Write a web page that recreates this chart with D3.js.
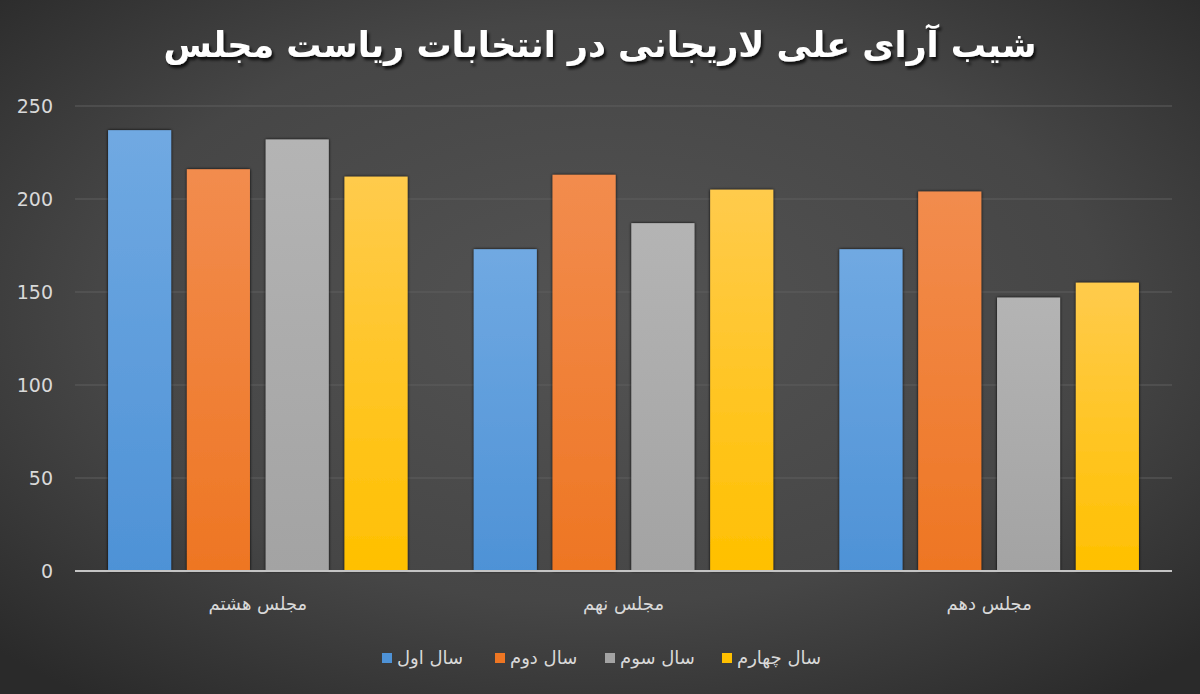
<!DOCTYPE html>
<html lang="fa">
<head>
<meta charset="UTF-8">
<title>شیب آرای علی لاریجانی</title>
<script src="https://d3js.org/d3.v7.min.js"></script>
<style>
    body {
        margin: 0;
        padding: 0;
        background: #333;
    }
    svg {
        display: block;
    }
    .tick text {
        font-family: "DejaVu Sans", sans-serif;
    }
</style>
</head>
<body>
<svg id="chart" width="1200" height="694"></svg>
<script>
// data
const categories = ["مجلس هشتم", "مجلس نهم", "مجلس دهم"];
const seriesNames = ["سال اول", "سال دوم", "سال سوم", "سال چهارم"];
const salAval    = [237, 173, 173];
const salDovom   = [216, 213, 204];
const salSevom   = [232, 187, 147];
const salCharom  = [212, 205, 155];
const yTicks = [0, 50, 100, 150, 200, 250];

const seriesValues = [salAval, salDovom, salSevom, salCharom];
const colorsTop = ["#70a9e2", "#f28c4e", "#b4b4b4", "#ffcb4c"];
const colorsBottom = ["#4e92d6", "#ee7623", "#a3a3a3", "#ffc000"];

const svg = d3.select("#chart"),
    width = +svg.attr("width"),
    height = +svg.attr("height");

const margin = { top: 106, right: 28, bottom: 123, left: 75 };

const defs = svg.append("defs");

// background: dark radial vignette
const bg = defs.append("radialGradient")
    .attr("id", "bg")
    .attr("cx", "50%").attr("cy", "45%").attr("r", "70%");
bg.append("stop").attr("offset", "0%").attr("stop-color", "#535353");
bg.append("stop").attr("offset", "60%").attr("stop-color", "#464646");
bg.append("stop").attr("offset", "100%").attr("stop-color", "#2a2a2a");

svg.append("rect")
    .attr("width", width)
    .attr("height", height)
    .attr("fill", "url(#bg)");

// bar gradients
seriesNames.forEach((s, i) => {
    const g = defs.append("linearGradient")
        .attr("id", "bar" + i)
        .attr("x1", 0).attr("y1", 0).attr("x2", 0).attr("y2", 1);
    g.append("stop").attr("offset", "0%").attr("stop-color", colorsTop[i]);
    g.append("stop").attr("offset", "100%").attr("stop-color", colorsBottom[i]);
});

// soft shadow around bars
const shadow = defs.append("filter")
    .attr("id", "shadow")
    .attr("x", "-20%").attr("y", "-10%").attr("width", "140%").attr("height", "120%");
shadow.append("feDropShadow")
    .attr("dx", 0).attr("dy", 0)
    .attr("stdDeviation", 1.8)
    .attr("flood-color", "#111")
    .attr("flood-opacity", 1);

// title shadow
const tshadow = defs.append("filter").attr("id", "tshadow");
tshadow.append("feDropShadow")
    .attr("dx", 2).attr("dy", 3)
    .attr("stdDeviation", 1.5)
    .attr("flood-color", "#000")
    .attr("flood-opacity", 0.8);

const x0 = d3.scaleBand()
    .domain(categories)
    .range([margin.left, width - margin.right])
    .padding(0);

const x1 = d3.scaleBand()
    .domain(d3.range(seriesNames.length))
    .range([0, x0.bandwidth()])
    .paddingInner(0.2)
    .paddingOuter(0.42);

const y = d3.scaleLinear()
    .domain([0, 250])
    .range([height - margin.bottom, margin.top]);

// gridlines
svg.append("g")
    .selectAll("line")
    .data(yTicks.slice(1))
    .join("line")
    .attr("x1", margin.left)
    .attr("x2", width - margin.right)
    .attr("y1", d => y(d))
    .attr("y2", d => y(d))
    .attr("stroke", "#5e5e5e")
    .attr("stroke-width", 1.2);

// y axis labels
const yAxis = d3.axisLeft(y).tickValues(yTicks).tickSize(0).tickPadding(22);
svg.append("g")
    .attr("transform", `translate(${margin.left},0)`)
    .call(yAxis)
    .call(g => g.select(".domain").remove())
    .call(g => g.selectAll("text")
        .attr("fill", "#d9d9d9")
        .attr("font-size", 19));

// bars
const groups = svg.append("g")
    .selectAll("g")
    .data(categories)
    .join("g")
    .attr("transform", d => `translate(${x0(d)},0)`);

groups.selectAll("rect")
    .data((c, ci) => seriesValues.map((vals, si) => ({ si, value: vals[ci] })))
    .join("rect")
    .attr("x", d => x1(d.si))
    .attr("width", x1.bandwidth())
    .attr("y", d => y(d.value))
    .attr("height", d => y(0) - y(d.value))
    .attr("fill", d => `url(#bar${d.si})`)
    .attr("filter", "url(#shadow)");

// x axis line
svg.append("line")
    .attr("x1", margin.left)
    .attr("x2", width - margin.right)
    .attr("y1", y(0))
    .attr("y2", y(0))
    .attr("stroke", "#c4c4c4")
    .attr("stroke-width", 2);

// category labels
const xAxis = d3.axisBottom(x0).tickSize(0).tickPadding(26);
svg.append("g")
    .attr("transform", `translate(0,${y(0)})`)
    .call(xAxis)
    .call(g => g.select(".domain").remove())
    .call(g => g.selectAll("text")
        .attr("fill", "#d9d9d9")
        .attr("font-size", 18)
        .attr("direction", "rtl"));

// title
svg.append("text")
    .attr("x", width / 2)
    .attr("y", 57)
    .attr("text-anchor", "middle")
    .attr("direction", "rtl")
    .attr("font-family", "'DejaVu Sans', sans-serif")
    .attr("font-weight", "bold")
    .attr("font-size", 35)
    .attr("fill", "#ffffff")
    .attr("filter", "url(#tshadow)")
    .text("شیب آرای علی لاریجانی در انتخابات ریاست مجلس");

// legend: square to the left of each label, items laid out left to right
const legendY = 658;
const legendX = [382, 495, 605, 722];
const legend = svg.append("g")
    .selectAll("g")
    .data(seriesNames)
    .join("g")
    .attr("transform", (d, i) => `translate(${legendX[i]},${legendY})`);

legend.append("rect")
    .attr("x", 0)
    .attr("y", -5)
    .attr("width", 10)
    .attr("height", 10)
    .attr("fill", (d, i) => colorsBottom[i]);

legend.append("text")
    .attr("x", 15)
    .attr("y", 0)
    .attr("dy", "0.35em")
    .attr("text-anchor", "start")
    .attr("font-family", "'DejaVu Sans', sans-serif")
    .attr("font-size", 18)
    .attr("fill", "#d9d9d9")
    .text(d => d);
</script>
</body>
</html>
